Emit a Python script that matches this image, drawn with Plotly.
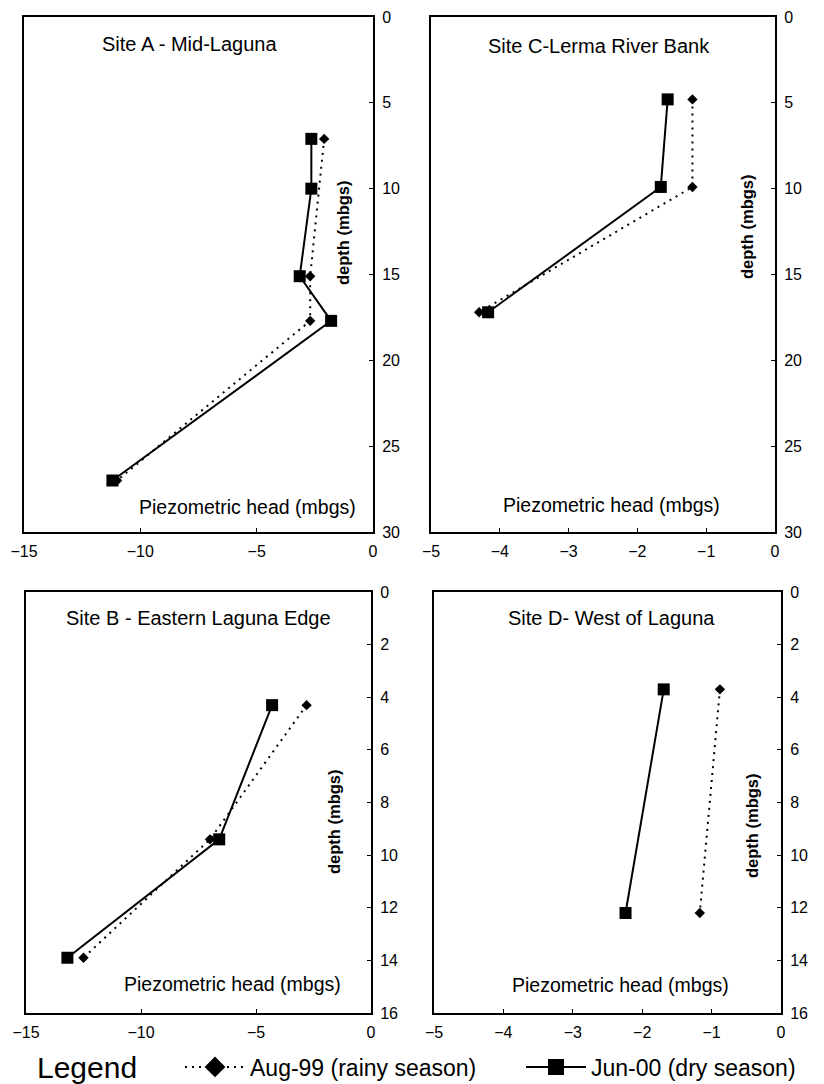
import plotly.graph_objects as go

# ---------------- data ----------------
site_a_aug_head = [-2.1, -2.7, -2.7, -11.0]
site_a_aug_depth = [7.1, 15.1, 17.7, 27.0]
site_a_jun_head = [-2.65, -2.65, -3.15, -1.8, -11.2]
site_a_jun_depth = [7.1, 10.0, 15.1, 17.7, 27.0]

site_c_aug_head = [-1.2, -1.2, -4.3]
site_c_aug_depth = [4.8, 9.9, 17.2]
site_c_jun_head = [-1.56, -1.66, -4.17]
site_c_jun_depth = [4.8, 9.9, 17.2]

site_b_aug_head = [-2.8, -7.0, -12.5]
site_b_aug_depth = [4.3, 9.4, 13.9]
site_b_jun_head = [-4.3, -6.6, -13.2]
site_b_jun_depth = [4.3, 9.4, 13.9]

site_d_aug_head = [-0.88, -1.17]
site_d_aug_depth = [3.7, 12.2]
site_d_jun_head = [-1.69, -2.24]
site_d_jun_depth = [3.7, 12.2]

panel_titles = ["Site A - Mid-Laguna", "Site C-Lerma River Bank",
                "Site B - Eastern Laguna Edge", "Site D- West of Laguna"]
x_ranges = [[-15, 0], [-5, 0], [-15, 0], [-5, 0]]
x_dticks = [5, 1, 5, 1]
y_ranges = [[30, 0], [30, 0], [16, 0], [16, 0]]
y_dticks = [5, 5, 2, 2]
series_names = ["Aug-99 (rainy season)", "Jun-00 (dry season)"]
x_label = "Piezometric head (mbgs)"
y_label = "depth (mbgs)"

W, H = 824, 1084
FONT = "Liberation Sans, Arial, Helvetica, sans-serif"

# panel frames in pixels: left, right, top, bottom
frames = [(24, 373, 17, 532), (431, 775, 17, 532),
          (26, 371, 592, 1013), (434, 781, 592, 1013)]


def px_x(x):
    return x / W


def px_y(y):
    return 1 - y / H


fig = go.Figure()

panels = [
    (site_a_aug_head, site_a_aug_depth, site_a_jun_head, site_a_jun_depth),
    (site_c_aug_head, site_c_aug_depth, site_c_jun_head, site_c_jun_depth),
    (site_b_aug_head, site_b_aug_depth, site_b_jun_head, site_b_jun_depth),
    (site_d_aug_head, site_d_aug_depth, site_d_jun_head, site_d_jun_depth),
]

DOT = "2px,5px"

for i, (ax, ay, jx, jy) in enumerate(panels):
    n = "" if i == 0 else str(i + 1)
    fig.add_trace(go.Scatter(
        x=ax, y=ay, xaxis="x" + n, yaxis="y" + n, mode="lines+markers",
        line=dict(color="black", width=2, dash=DOT),
        marker=dict(symbol="diamond", size=8, color="black"),
        showlegend=False, name=series_names[0]))
    fig.add_trace(go.Scatter(
        x=jx, y=jy, xaxis="x" + n, yaxis="y" + n, mode="lines+markers",
        line=dict(color="black", width=2),
        marker=dict(symbol="square", size=12, color="black"),
        showlegend=False, name=series_names[1]))

# legend-only entries (each in its own legend box)
fig.add_trace(go.Scatter(
    x=[None], y=[None], mode="lines+markers", name=series_names[0],
    line=dict(color="black", width=2, dash=DOT),
    marker=dict(symbol="diamond", size=16, color="black"),
    legend="legend"))
fig.add_trace(go.Scatter(
    x=[None], y=[None], mode="lines+markers", name=series_names[1],
    line=dict(color="black", width=2),
    marker=dict(symbol="square", size=16, color="black"),
    legend="legend2"))

leg_common = dict(orientation="h", xanchor="left", yanchor="middle",
                  font=dict(size=23, family=FONT, color="black"),
                  bgcolor="rgba(0,0,0,0)", borderwidth=0,
                  itemsizing="trace", itemwidth=60)

layout = dict(
    width=W, height=H,
    margin=dict(l=0, r=0, t=0, b=0, autoexpand=False),
    paper_bgcolor="white", plot_bgcolor="white",
    font=dict(family=FONT, color="black"),
    showlegend=True,
    legend=dict(x=px_x(180), y=px_y(1067), **leg_common),
    legend2=dict(x=px_x(521), y=px_y(1067), **leg_common),
)

annotations = []
for i, (l, r, t, b) in enumerate(frames):
    n = "" if i == 0 else str(i + 1)
    layout["xaxis" + n] = dict(
        domain=[px_x(l), px_x(r)], range=x_ranges[i], dtick=x_dticks[i],
        tick0=0, anchor="y" + n, side="bottom", showgrid=False,
        zeroline=False, showline=True, linecolor="black", linewidth=2,
        mirror=True, ticks="inside", ticklen=4, tickwidth=1,
        tickcolor="black", tickfont=dict(size=16, family=FONT),
        ticklabelstandoff=4, fixedrange=True, automargin=False)
    layout["yaxis" + n] = dict(
        domain=[px_y(b), px_y(t)], range=y_ranges[i], dtick=y_dticks[i],
        tick0=0, anchor="x" + n, side="right", showgrid=False,
        zeroline=False, showline=True, linecolor="black", linewidth=2,
        mirror=True, ticks="inside", ticklen=4, tickwidth=1,
        tickcolor="black", tickfont=dict(size=16, family=FONT),
        ticklabelstandoff=4, fixedrange=True, automargin=False)

title_pos = [(189, 44), (599, 46), (198, 618), (611, 618)]
xlab_pos = [(248, 507), (611, 505), (232, 984), (620, 985)]
ylab_pos = [(343, 233), (747, 227), (334, 822), (752, 826)]

for i in range(4):
    annotations.append(dict(
        text=panel_titles[i], x=px_x(title_pos[i][0]), y=px_y(title_pos[i][1]),
        xref="paper", yref="paper", showarrow=False,
        xanchor="center", yanchor="middle",
        font=dict(size=20, family=FONT, color="black")))
    annotations.append(dict(
        text=x_label, x=px_x(xlab_pos[i][0]), y=px_y(xlab_pos[i][1]),
        xref="paper", yref="paper", showarrow=False,
        xanchor="center", yanchor="middle",
        font=dict(size=19.5, family=FONT, color="black")))
    annotations.append(dict(
        text="<b>" + y_label + "</b>", x=px_x(ylab_pos[i][0]),
        y=px_y(ylab_pos[i][1]), xref="paper", yref="paper",
        showarrow=False, textangle=-90, xanchor="center", yanchor="middle",
        font=dict(size=16.5, family=FONT, color="black")))

annotations.append(dict(
    text="Legend", x=px_x(35), y=px_y(1067), xref="paper", yref="paper",
    showarrow=False, xanchor="left", yanchor="middle",
    font=dict(size=30, family=FONT, color="black")))

layout["annotations"] = annotations
fig.update_layout(**layout)

fig.write_html("out.html")
